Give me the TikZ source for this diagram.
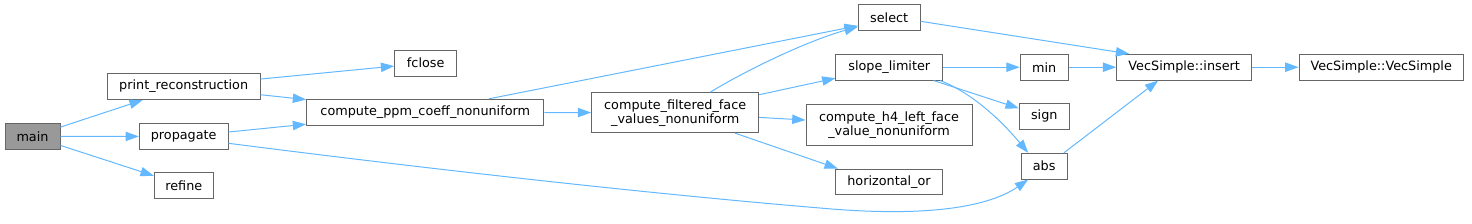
\documentclass[tikz,border=0pt]{standalone}
\usepackage{fontspec}
\setmainfont{DejaVu Sans}
\usetikzlibrary{arrows.meta,calc}
\definecolor{edgec}{HTML}{63B8FF}
\definecolor{boxc}{HTML}{666666}
\definecolor{mainfill}{HTML}{999999}
\newcommand{\nodefont}{\fontsize{9.6pt}{10.5pt}\selectfont}
\tikzset{
  box/.style n args={2}{draw=boxc, fill=white, line width=0.75pt,
    minimum width=#1*0.75pt, minimum height=#2*0.75pt, inner sep=0pt,
    font=\nodefont, align=center},
  edge/.style={draw=edgec, line width=0.75pt, -{Triangle[length=10pt,width=7pt]}}
}
\begin{document}
\begin{tikzpicture}[x=0.75pt,y=-0.75pt]
\useasboundingbox (0,0) rectangle (1472,223);
% nodes
\node[box={55}{26}, fill=mainfill] (main) at (32.5,136.3) {main};
\node[box={152.7}{26}] (pr) at (183.7,86.5) {print\_reconstruction};
\node[box={88.7}{26}] (prop) at (183.7,136.5) {propagate};
\node[box={59}{25.6}] (refine) at (183.8,185.5) {refine};
\node[box={62}{26}] (fclose) at (425.7,63) {fclose};
\node[box={237.3}{26}] (cppm) at (425.3,112.3) {compute\_ppm\_coeff\_nonuniform};
\node[box={167}{40}] (cfilt) at (675.2,112.7) {compute\_filtered\_face\\\_values\_nonuniform};
\node[box={61.7}{25.7}] (sel) at (889.2,17.8) {select};
\node[box={106.7}{25.7}] (slope) at (889.3,67.2) {slope\_limiter};
\node[box={166}{40.7}] (h4) at (889,124.7) {compute\_h4\_left\_face\\\_value\_nonuniform};
\node[box={107.3}{25.3}] (hor) at (889,181.7) {horizontal\_or};
\node[box={48}{25.7}] (min) at (1044.2,67.2) {min};
\node[box={50}{26}] (sign) at (1044.3,116.3) {sign};
\node[box={46.3}{25.7}] (abs) at (1044.2,166.2) {abs};
\node[box={135}{25.7}] (ins) at (1184.2,67.2) {VecSimple::insert};
\node[box={164.3}{25.7}] (vs) at (1381.2,67.2) {VecSimple::VecSimple};
% edges
\draw[edge] (main) -- (pr);
\draw[edge] (main) -- (prop);
\draw[edge] (main) -- (refine);
\draw[edge] (pr) -- (fclose);
\draw[edge] (pr) -- (cppm);
\draw[edge] (prop) -- (cppm);
\draw[edge] ($(prop.east)+(0,6.8)$) .. controls (500,178) and (700,198) .. (820,208)
   .. controls (930,218) and (990,206) .. ($(abs.south)+(-16,0)$);
\draw[edge] (cppm) -- (cfilt);
\draw[edge] ($(cppm.north)+(63.7,0)$) -- ($(sel.west)+(0,8)$);
\draw[edge] ($(cfilt.north)+(35,0)$) .. controls (750,68) and (810,40) .. ($(sel.west)+(0,9)$);
\draw[edge] ($(cfilt.east)+(0,-18)$) -- ($(slope.west)+(0,11)$);
\draw[edge] (cfilt) -- (h4);
\draw[edge] ($(cfilt.south)+(60,0)$) -- ($(hor.north west)+(3,0)$);
\draw[edge] ($(sel.east)+(0,3.5)$) -- ($(ins.north west)+(13,0)$);
\draw[edge] (slope) -- (min);
\draw[edge] ($(slope.south east)+(-9.5,0)$) -- ($(sign.west)+(0,-8)$);
\draw[edge] ($(slope.south east)+(-3,0)$) .. controls (975,94) and (1005,125) .. ($(abs.north)+(-16,0)$);
\draw[edge] (min) -- (ins);
\draw[edge] ($(abs.north east)+(-4,0)$) -- ($(ins.south)+(-26,0)$);
\draw[edge] (ins) -- (vs);
\end{tikzpicture}
\end{document}
